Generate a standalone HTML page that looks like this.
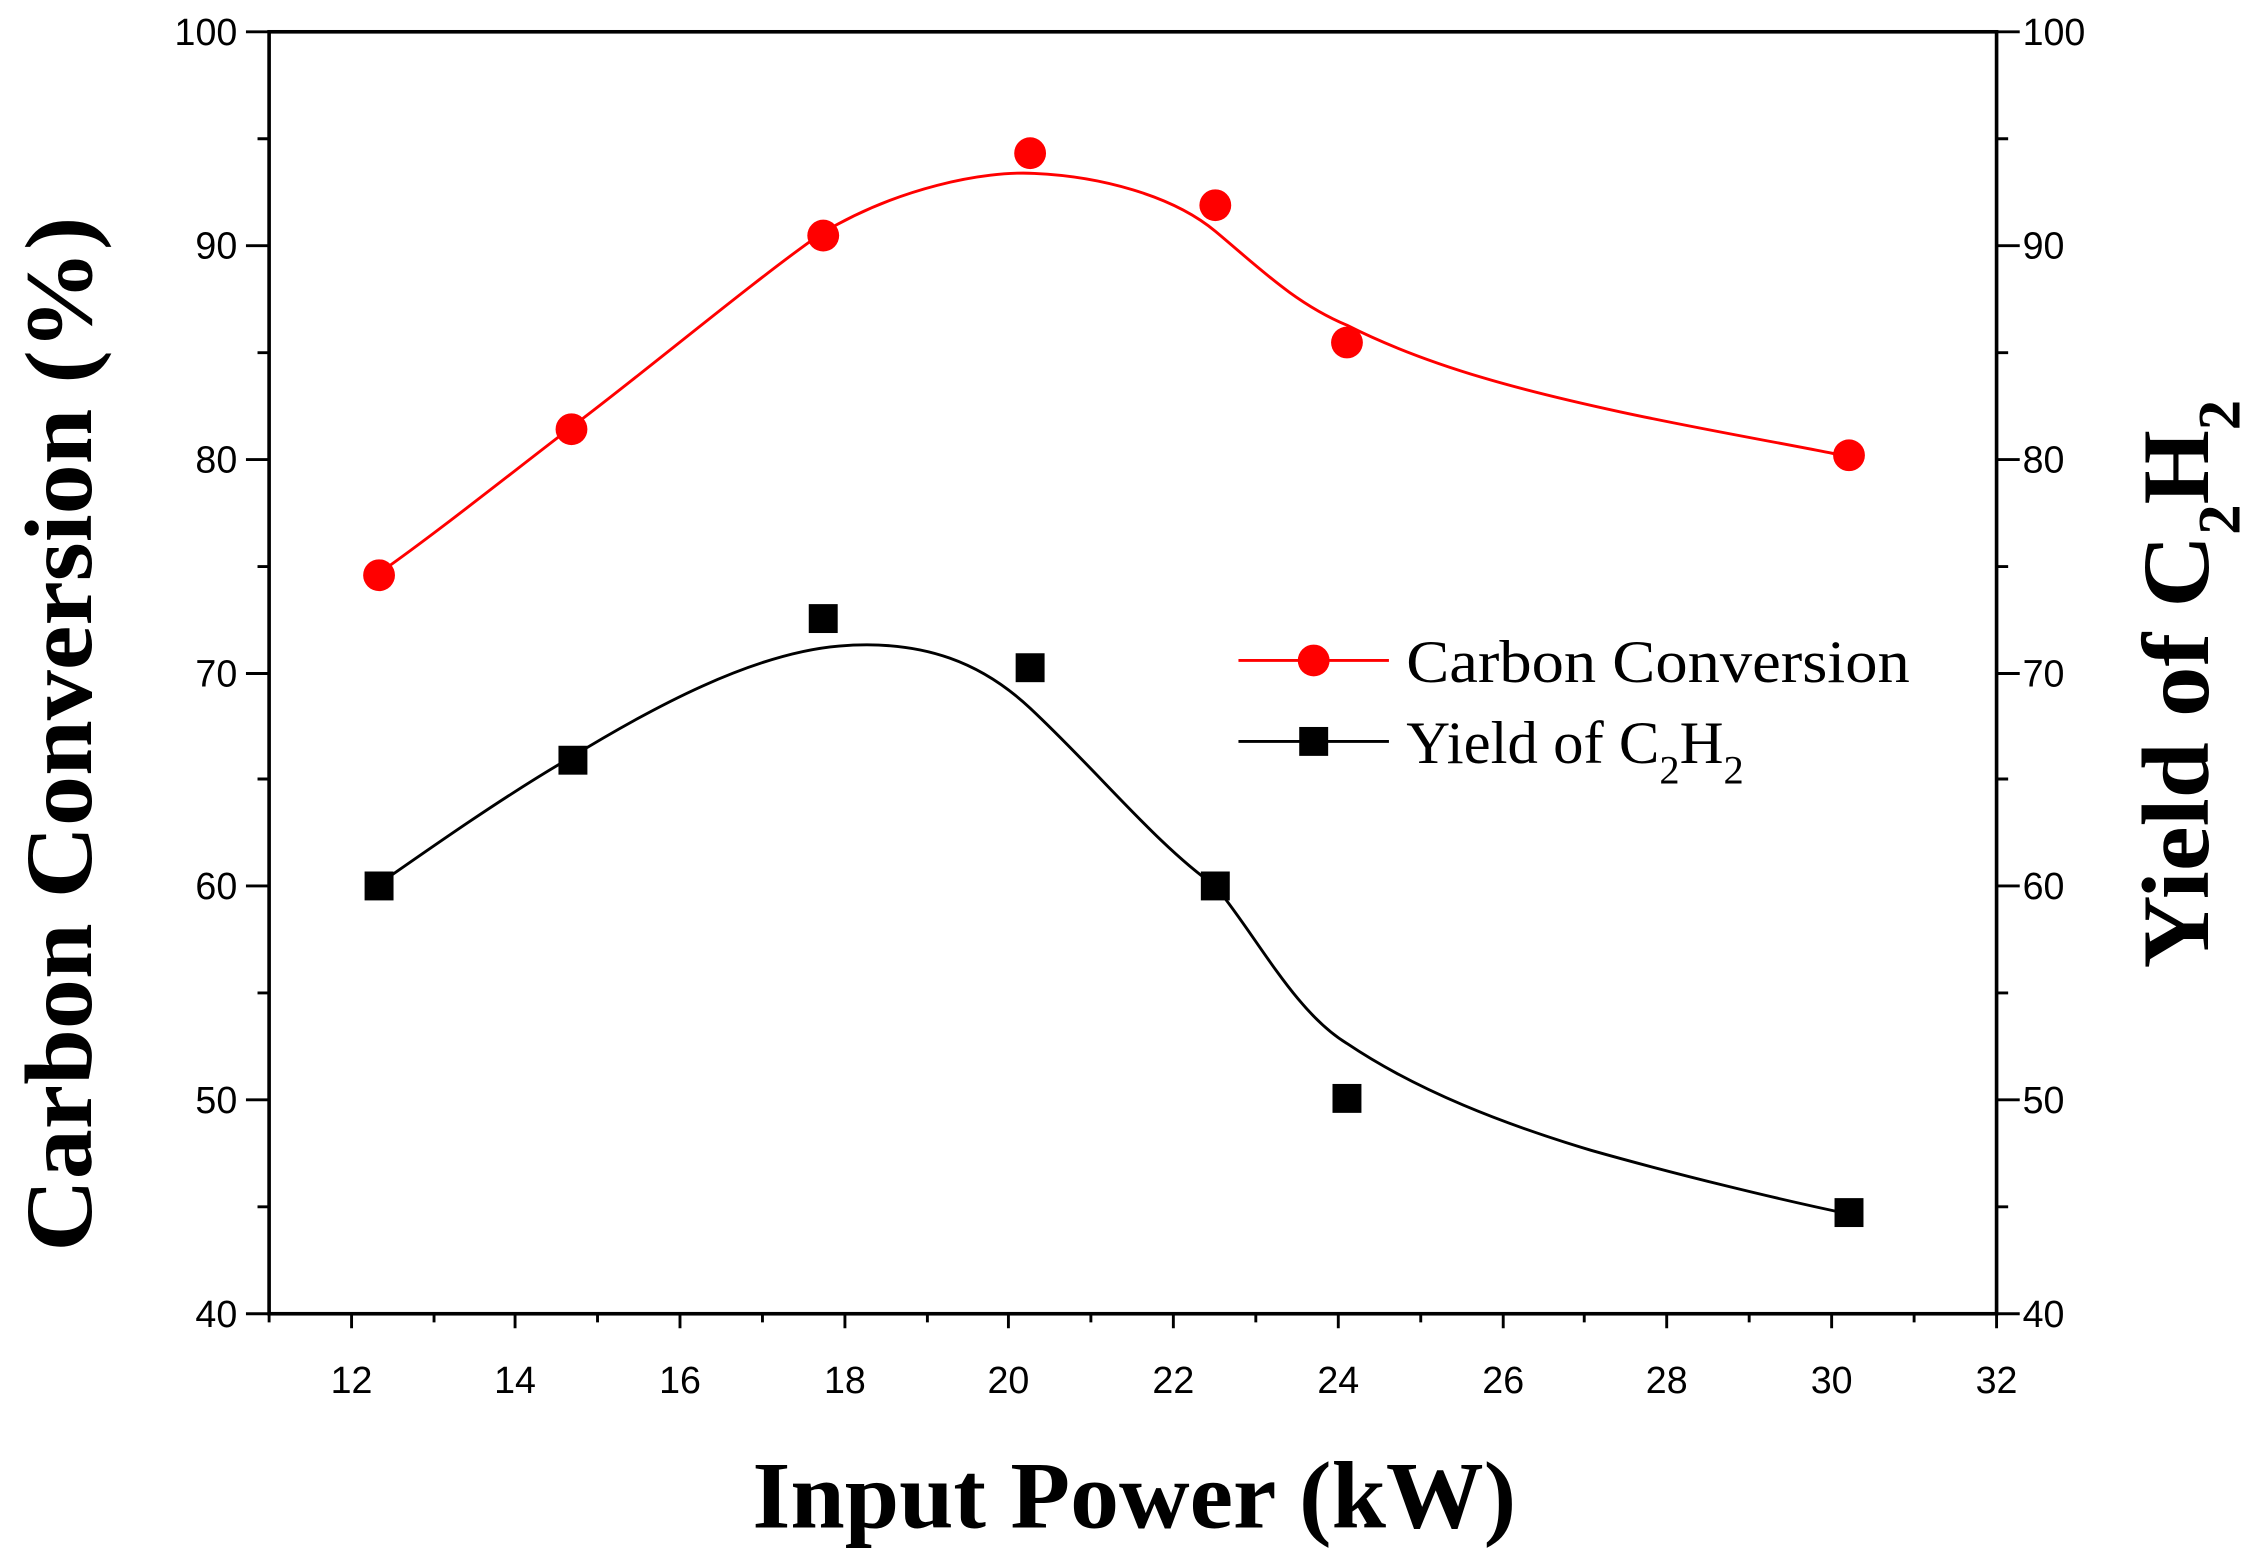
<!DOCTYPE html>
<html><head><meta charset="utf-8"><style>html,body{margin:0;padding:0;background:#fff}svg{display:block}</style></head>
<body>
<svg width="2257" height="1558" viewBox="0 0 1560 1078" preserveAspectRatio="none" xmlns="http://www.w3.org/2000/svg">
<rect width="1560" height="1078" fill="#fff"/>
<g stroke="#000" stroke-width="2.5" fill="none">
<rect x="186" y="22" width="1194" height="887"/>
</g>
<g stroke="#000" stroke-width="2">
<path d="M243,909v10M356,909v10M470,909v10M584,909v10M697,909v10M811,909v10M925,909v10M1039,909v10M1152,909v10M1266,909v10M1380,909v10"/>
<path d="M186,909v6M300,909v6M413,909v6M527,909v6M641,909v6M754,909v6M868,909v6M982,909v6M1095,909v6M1209,909v6M1323,909v6"/>
<path d="M170,22h16M170,170h16M170,318h16M170,466h16M170,613h16M170,761h16M170,909h16"/>
<path d="M178,96h8M178,244h8M178,392h8M178,539h8M178,687h8M178,835h8"/>
<path d="M1380,22h16M1380,170h16M1380,318h16M1380,466h16M1380,613h16M1380,761h16M1380,909h16"/>
<path d="M1380,96h8M1380,244h8M1380,392h8M1380,539h8M1380,687h8M1380,835h8"/>
</g>
<g font-family="Liberation Sans, sans-serif" font-size="26" fill="#000">
<g text-anchor="middle">
<text x="243" y="964">12</text><text x="356" y="964">14</text><text x="470" y="964">16</text><text x="584" y="964">18</text><text x="697" y="964">20</text><text x="811" y="964">22</text><text x="925" y="964">24</text><text x="1039" y="964">26</text><text x="1152" y="964">28</text><text x="1266" y="964">30</text><text x="1380" y="964">32</text>
</g>
<g text-anchor="end">
<text x="164" y="31">100</text><text x="164" y="179">90</text><text x="164" y="327">80</text><text x="164" y="475">70</text><text x="164" y="622">60</text><text x="164" y="770">50</text><text x="164" y="918">40</text>
</g>
<g text-anchor="start">
<text x="1398" y="31">100</text><text x="1398" y="179">90</text><text x="1398" y="327">80</text><text x="1398" y="475">70</text><text x="1398" y="622">60</text><text x="1398" y="770">50</text><text x="1398" y="918">40</text>
</g>
</g>
<g font-family="Liberation Serif, serif" font-weight="bold" fill="#000">
<text x="520" y="1057" font-size="66" textLength="528" lengthAdjust="spacingAndGlyphs">Input Power (kW)</text>
<text transform="translate(63,866) rotate(-90)" font-size="66" textLength="716" lengthAdjust="spacingAndGlyphs">Carbon Conversion (%)</text>
<text transform="translate(1526,670) rotate(-90)" font-size="66"><tspan textLength="300" lengthAdjust="spacingAndGlyphs">Yield of C</tspan><tspan font-size="42" dy="22">2</tspan><tspan font-size="66" dy="-22">H</tspan><tspan font-size="42" dy="22">2</tspan></text>
</g>
<path d="M260,398 C300,370 350,330 393,297 C440,262 520,195 567,162 C620,130 680,118 715,120 C760,122 810,135 840,160 C870,185 895,210 931,225 C990,255 1060,272 1120,285 C1180,298 1240,308 1278,316" fill="none" stroke="#f00" stroke-width="2"/>
<path d="M260,613 C300,585 350,550 393,525 C450,490 520,452 580,447 C640,442 680,460 712,490 C760,535 800,585 840,613 C870,650 895,700 931,722 C980,755 1040,778 1100,796 C1160,813 1230,830 1278,840" fill="none" stroke="#000" stroke-width="2"/>
<g fill="#f00">
<circle cx="262" cy="398" r="11"/><circle cx="395" cy="297" r="11"/><circle cx="569" cy="163" r="11"/><circle cx="712" cy="106" r="11"/><circle cx="840" cy="142" r="11"/><circle cx="931" cy="237" r="11"/><circle cx="1278" cy="315" r="11"/>
</g>
<g fill="#000">
<rect x="252" y="603" width="20" height="20"/><rect x="386" y="516" width="20" height="20"/><rect x="559" y="418" width="20" height="20"/><rect x="702" y="452" width="20" height="20"/><rect x="830" y="603" width="20" height="20"/><rect x="921" y="750" width="20" height="20"/><rect x="1268" y="829" width="20" height="20"/>
</g>
<line x1="856" y1="457" x2="960" y2="457" stroke="#f00" stroke-width="2"/>
<circle cx="908" cy="457" r="11" fill="#f00"/>
<line x1="856" y1="513" x2="960" y2="513" stroke="#000" stroke-width="2"/>
<rect x="898" y="503" width="20" height="20" fill="#000"/>
<g font-family="Liberation Serif, serif" font-size="42" fill="#000">
<text x="972" y="472" textLength="348" lengthAdjust="spacingAndGlyphs">Carbon Conversion</text>
<text x="972" y="528">Yield of C<tspan font-size="28" dy="14">2</tspan><tspan dy="-14">H</tspan><tspan font-size="28" dy="14">2</tspan></text>
</g>
</svg>
</body></html>
